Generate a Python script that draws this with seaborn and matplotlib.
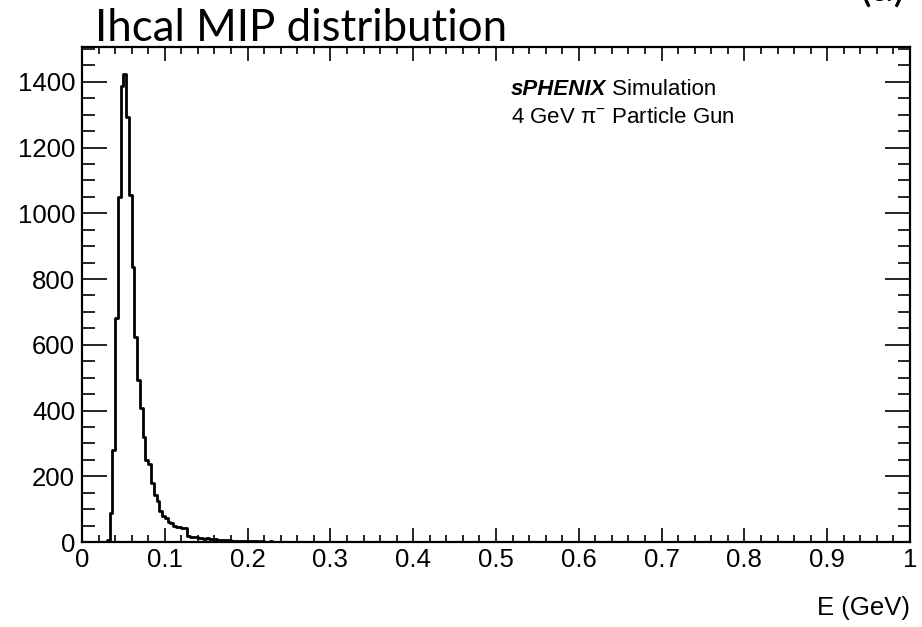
import numpy as np
import pandas as pd
import matplotlib
matplotlib.use("Agg")
import matplotlib.pyplot as plt
import seaborn as sns
from matplotlib.ticker import MultipleLocator

# ---- data ----
n_bins = 300
x_range = (0.0, 1.0)
counts_head = [
    0, 0, 0, 0, 0, 0, 0, 0, 0, 6,
    87, 280, 682, 1051, 1386, 1424, 1292, 1056, 838, 625,
    493, 407, 320, 250, 238, 179, 142, 126, 95, 80,
    74, 62, 57, 49, 47, 45, 44, 42, 18, 16,
    14, 15, 12, 13, 10, 11, 9, 8, 9, 7,
    6, 7, 5, 6, 4, 4, 4, 3, 3, 2,
    3, 2, 2, 2, 1, 2, 1, 1, 2, 1,
    1, 0, 1, 1, 0, 1, 0, 0, 1, 0,
    1, 0, 0, 1, 0, 0, 0, 1, 0, 0,
    0, 0, 1, 0, 0, 0, 0, 0, 0, 0,
]
counts = np.array(counts_head + [0] * (n_bins - len(counts_head)), dtype=float)
edges = np.linspace(x_range[0], x_range[1], n_bins + 1)
centers = 0.5 * (edges[:-1] + edges[1:])
df = pd.DataFrame({"E": centers, "w": counts})

title_text = "Ihcal MIP distribution"
corner_text = "(a)"
label_line1_bold = "sPHENIX"
label_line1_rest = " Simulation"
label_line2 = r"4 GeV $\mathrm{\pi}^{-}$ Particle Gun"
xlabel_text = "E (GeV)"
xtick_vals = [0, 0.1, 0.2, 0.3, 0.4, 0.5, 0.6, 0.7, 0.8, 0.9, 1.0]
xtick_labels = ["0", "0.1", "0.2", "0.3", "0.4", "0.5", "0.6", "0.7", "0.8", "0.9", "1"]
ytick_vals = [0, 200, 400, 600, 800, 1000, 1200, 1400]

# ---- style ----
sns.set_style("white")
plt.rcParams["font.family"] = ["Liberation Sans", "DejaVu Sans"]
plt.rcParams["text.color"] = "black"
plt.rcParams["axes.labelcolor"] = "black"
plt.rcParams["xtick.color"] = "black"
plt.rcParams["ytick.color"] = "black"
plt.rcParams["mathtext.fontset"] = "custom"
plt.rcParams["mathtext.rm"] = "Liberation Sans"
plt.rcParams["mathtext.it"] = "Liberation Sans:italic"
plt.rcParams["mathtext.bf"] = "Liberation Sans:bold"

fig = plt.figure(figsize=(9.22, 6.27), dpi=100)
ax = fig.add_axes([82 / 922, 1 - 542 / 627, (910 - 82) / 922, (542 - 47) / 627])

sns.histplot(data=df, x="E", weights="w", bins=n_bins, binrange=x_range,
             element="step", fill=False, color="black", linewidth=2.0, ax=ax)

ax.set_xlim(0, 1)
ax.set_ylim(0, 1506)
ax.set_xlabel("")
ax.set_ylabel("")

ax.set_xticks(xtick_vals)
ax.set_xticklabels(xtick_labels)
ax.xaxis.set_minor_locator(MultipleLocator(0.02))
ax.set_yticks(ytick_vals)
ax.set_yticklabels([str(v) for v in ytick_vals])
ax.yaxis.set_minor_locator(MultipleLocator(50))

ax.tick_params(axis="x", which="both", direction="in", top=True, bottom=True,
               width=1.2, color="black", labelcolor="black", labelsize=18.5, pad=4)
ax.tick_params(axis="x", which="major", length=10)
ax.tick_params(axis="x", which="minor", length=5)
ax.tick_params(axis="y", which="both", direction="in", left=True, right=True,
               width=1.2, color="black", labelcolor="black", labelsize=18.5, pad=5)
ax.tick_params(axis="y", which="major", length=18)
ax.tick_params(axis="y", which="minor", length=9)
for s in ax.spines.values():
    s.set_visible(True)
    s.set_color("black")
    s.set_linewidth(1.6)
ax.grid(False)

# ---- texts ----
fig.text(95 / 922, 1 - 41 / 627, title_text, family=["Lato", "DejaVu Sans"],
         fontsize=31.5, ha="left", va="baseline", color="black")
fig.text(905 / 922, 1 + 11 / 627, corner_text, family=["Lato", "DejaVu Sans"],
         fontsize=31.5, ha="right", va="center", color="black")

t1 = fig.text(511 / 922, 1 - 95 / 627, label_line1_bold, fontsize=16,
              fontweight="bold", fontstyle="italic", ha="left", va="baseline",
              color="black")
ax.annotate(label_line1_rest, xy=(1, 0), xycoords=t1, fontsize=16,
            ha="left", va="bottom", color="black")
fig.text(511 / 922, 1 - 123 / 627, label_line2, fontsize=16,
         ha="left", va="baseline", color="black")

fig.text(910 / 922, 1 - 608 / 627, xlabel_text, fontsize=18.5,
         ha="right", va="center", color="black")

fig.savefig("out.png", dpi=100)
